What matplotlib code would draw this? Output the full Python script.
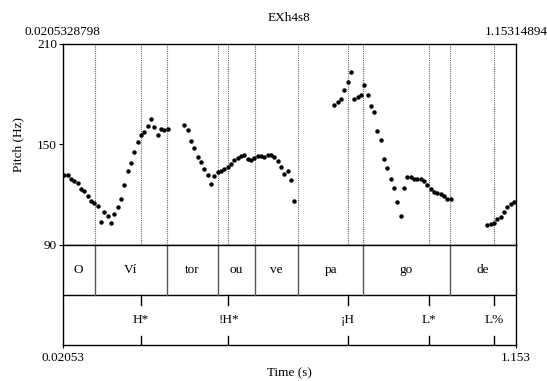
import matplotlib.pyplot as plt

plt.rcParams["font.family"] = ["Liberation Serif", "DejaVu Serif"]
plt.rcParams["font.size"] = 9.5

t_start = 0.0205328798
t_end = 1.15314894

# pitch track (s, Hz)
times = [
    0.0255, 0.0338, 0.0422, 0.0505, 0.0587, 0.0672, 0.0754, 0.0837, 0.0921, 0.1004,
    0.1086, 0.1171, 0.1253, 0.1336, 0.1420, 0.1503, 0.1585, 0.1670, 0.1752, 0.1835,
    0.1919, 0.2002, 0.2084, 0.2169, 0.2251, 0.2334, 0.2418, 0.2501, 0.2583, 0.2668,
    0.2750, 0.2833,
    0.3249, 0.3332, 0.3416, 0.3499, 0.3581, 0.3666, 0.3748, 0.3831, 0.3915, 0.3998,
    0.4080, 0.4165, 0.4247, 0.4330, 0.4414, 0.4497, 0.4579, 0.4664, 0.4746, 0.4829,
    0.4913, 0.4996, 0.5078, 0.5163, 0.5245, 0.5328, 0.5412, 0.5495, 0.5577, 0.5662,
    0.5744, 0.5827, 0.5911, 0.5994,
    0.6992, 0.7074, 0.7159, 0.7241, 0.7324, 0.7408, 0.7491, 0.7573, 0.7658, 0.7740,
    0.7823, 0.7907, 0.7990, 0.8072, 0.8157, 0.8239, 0.8322, 0.8406, 0.8489, 0.8571,
    0.8656, 0.8738, 0.8821, 0.8905, 0.8988, 0.9070, 0.9155, 0.9237, 0.9320, 0.9404,
    0.9487, 0.9569, 0.9654, 0.9736, 0.9819, 0.9903,
    1.0817, 1.0901, 1.0984, 1.1066, 1.1151, 1.1233, 1.1316, 1.1400, 1.1483,
]
pitch = [
    131.8, 131.4, 129.2, 128.0, 126.8, 123.2, 121.8, 119.0, 116.0, 114.6,
    112.8, 103.4, 109.2, 107.2, 102.6, 108.4, 112.6, 117.0, 125.4, 134.2,
    138.6, 145.2, 151.4, 155.4, 157.4, 161.0, 165.4, 160.4, 155.8, 159.2,
    158.6, 159.2,
    161.4, 158.6, 152.0, 147.6, 142.4, 139.2, 135.2, 131.8, 126.4, 131.0,
    133.2, 134.0, 135.2, 136.2, 138.0, 140.4, 141.8, 143.0, 143.6, 141.4,
    140.4, 141.8, 143.0, 143.0, 142.6, 143.6, 143.8, 142.6, 140.2, 136.2,
    132.2, 133.8, 128.8, 116.0,
    173.6, 175.0, 177.2, 182.2, 187.4, 193.4, 177.2, 178.2, 179.6, 185.4,
    179.4, 172.8, 169.2, 158.0, 152.4, 141.0, 135.6, 129.0, 123.6, 115.4,
    107.0, 123.6, 130.4, 130.6, 129.4, 129.0, 129.2, 127.8, 125.4, 123.0,
    121.6, 121.0, 120.2, 118.8, 117.2, 117.2,
    101.4, 102.0, 102.8, 105.4, 106.6, 109.2, 112.6, 114.4, 115.4,
]

# syllable tier
syl_bounds = [0.1017, 0.2805, 0.4079, 0.5013, 0.6094, 0.7718, 0.9873]
syl_labels = ["O", "Ví", "tor", "ou", "ve", "pa", "go", "de"]

# tones tier
tone_times = [0.2168, 0.4351, 0.7335, 0.9358, 1.0992]
tone_labels = ["H*", "!H*", "¡H", "L*", "L%"]

W, H = 547, 381
fig = plt.figure(figsize=(W / 100, H / 100), dpi=100)
x0, x1 = 62.5, 516
ax = fig.add_axes([x0 / W, (H - 244.5) / H, (x1 - x0) / W, 200.5 / H])
axt = fig.add_axes([x0 / W, (H - 345) / H, (x1 - x0) / W, 100.5 / H])

# pitch panel
for b in syl_bounds + tone_times:
    ax.axvline(b, color="#666666", lw=0.8, ls=(0, (1, 1)))
ax.plot(times, pitch, "o", color="black", ms=3.2, mew=0)
ax.set_xlim(t_start, t_end)
ax.set_ylim(90, 210)
ax.set_xticks([])
ax.set_yticks([90, 150, 210])
ax.tick_params(axis="y", length=3, width=0.8, pad=1, labelsize=9.5)
for s in ax.spines.values():
    s.set_linewidth(1.0)

# tiers
axt.set_xlim(t_start, t_end)
axt.set_ylim(0, 2)
axt.axhline(1, color="black", lw=1.0)
for b in syl_bounds:
    axt.plot([b, b], [1, 2], color="#555555", lw=1.0)
edges = [t_start] + syl_bounds + [t_end]
for lab, a, b in zip(syl_labels, edges[:-1], edges[1:]):
    axt.text((a + b) / 2, 1.5, lab, ha="center", va="center", fontsize=9.5)
for t, lab in zip(tone_times, tone_labels):
    axt.plot([t, t], [1, 0.79], color="black", lw=1.0)
    axt.plot([t, t], [0, 0.18], color="black", lw=1.0)
    axt.text(t, 0.5, lab, ha="center", va="center", fontsize=9.5)
axt.set_yticks([])
axt.set_xticks([t_start, t_end])
axt.set_xticklabels([])
axt.tick_params(axis="x", length=2.5, width=0.8)
for s in axt.spines.values():
    s.set_linewidth(1.0)

# labels
fig.text(289 / W, 1 - 18 / H, "EXh4s8", ha="center", va="center")
fig.text(x0 / W, 1 - 32 / H, "0.0205328798", ha="center", va="center")
fig.text(x1 / W, 1 - 32 / H, "1.15314894", ha="center", va="center")
fig.text(x0 / W, 1 - 358 / H, "0.02053", ha="center", va="center")
fig.text(x1 / W, 1 - 358 / H, "1.153", ha="center", va="center")
fig.text(289 / W, 1 - 373 / H, "Time (s)", ha="center", va="center")
fig.text(18 / W, 1 - 144 / H, "Pitch (Hz)", ha="center", va="center", rotation=90)

fig.savefig("out.png", dpi=100)
